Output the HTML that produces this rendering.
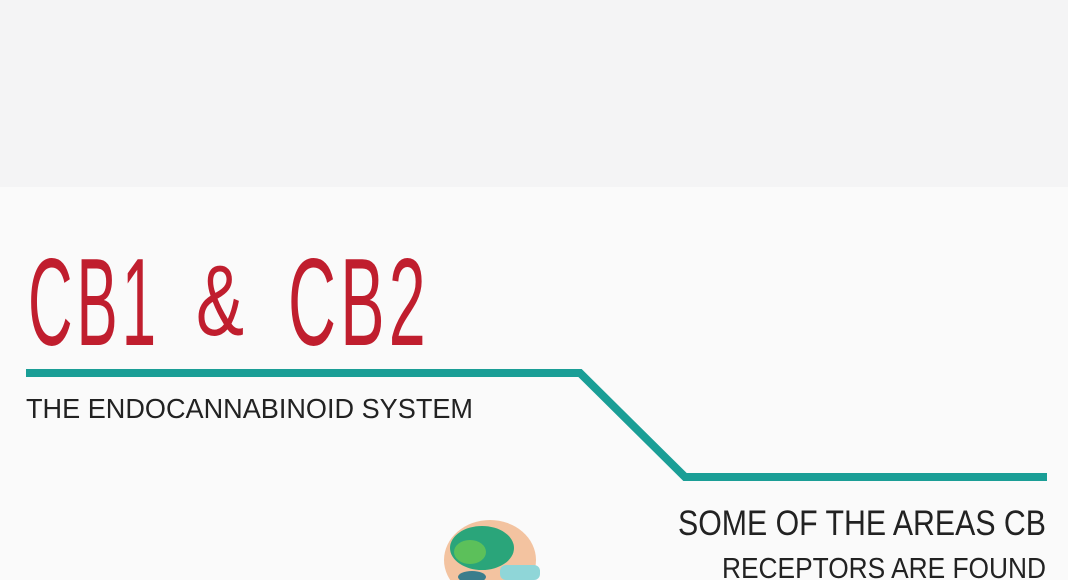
<!DOCTYPE html>
<html><head><meta charset="utf-8"><style>
html,body{margin:0;padding:0;width:1068px;height:580px;overflow:hidden;background:#f5f5f6;}
svg{display:block}
</style></head><body>
<svg width="1068" height="580" viewBox="0 0 1068 580" xmlns="http://www.w3.org/2000/svg">
<rect x="0" y="0" width="1068" height="188" fill="#f4f4f5"/>
<rect x="0" y="187" width="1068" height="393" fill="#fafafa"/>
<g font-family="Liberation Sans, sans-serif" font-size="124" fill="#c01e2e">
<text x="28" y="345" textLength="132" lengthAdjust="spacingAndGlyphs" style="letter-spacing:8px">CB1</text>
<text x="196" y="335" font-size="100" textLength="48" lengthAdjust="spacingAndGlyphs">&amp;</text>
<text x="288" y="345" textLength="142" lengthAdjust="spacingAndGlyphs" style="letter-spacing:8px">CB2</text>
</g>
<polyline points="26,373 580,373 685,477 1047,477" fill="none" stroke="#1a9e96" stroke-width="8" stroke-linejoin="miter"/>
<text x="26" y="418" font-family="Liberation Sans, sans-serif" font-size="28" fill="#222" textLength="447" lengthAdjust="spacingAndGlyphs">THE ENDOCANNABINOID SYSTEM</text>
<text x="678" y="535" font-family="Liberation Sans, sans-serif" font-size="35" fill="#222" textLength="368" lengthAdjust="spacingAndGlyphs">SOME OF THE AREAS CB</text>
<text x="722" y="578" font-family="Liberation Sans, sans-serif" font-size="29" fill="#222" textLength="324" lengthAdjust="spacingAndGlyphs">RECEPTORS ARE FOUND</text>
<ellipse cx="490" cy="560" rx="46" ry="40" fill="#f3c3a0"/>
<ellipse cx="482" cy="548" rx="32" ry="22" fill="#2aa57a"/>
<ellipse cx="470" cy="552" rx="16" ry="12" fill="#5cc05a"/>
<ellipse cx="472" cy="577" rx="14" ry="6" fill="#3a7d8c"/>
<rect x="500" y="565" width="40" height="15" rx="6" fill="#8fd6d8"/>
</svg>
</body></html>
